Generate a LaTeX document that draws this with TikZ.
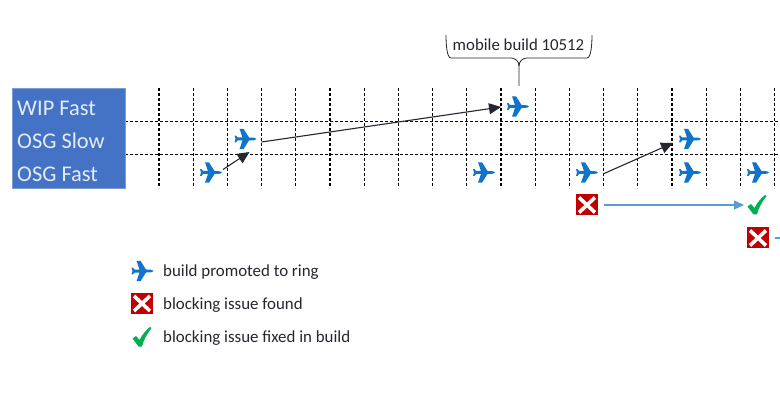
\documentclass[tikz,border=0pt]{standalone}
\usepackage{fontspec}
\setmainfont{Carlito}
\usetikzlibrary{arrows.meta}
\definecolor{boxblue}{HTML}{4472C4}
\definecolor{boxtxt}{HTML}{E4ECF8}
\definecolor{planeblue}{HTML}{0F75CC}
\definecolor{linkblue}{HTML}{5B9BD5}
\definecolor{xred}{HTML}{C00000}
\definecolor{okgreen}{HTML}{00B050}
\definecolor{ink}{HTML}{262630}
\newcommand{\planeglyph}{\tikz[x=1pt,y=-1pt,baseline=0pt]{
  \path[use as bounding box] (-11,-10) rectangle (11,10);
  \fill[planeblue] (11,0) -- (9,-1.2) -- (3.5,-1.5) -- (-2,-10.2) -- (-6,-10.2) -- (-3,-1.5) -- (-8,-1.5) -- (-9.5,-3.4) -- (-11,-3.4) -- (-10,0)
    -- (-11,3.4) -- (-9.5,3.4) -- (-8,1.5) -- (-3,1.5) -- (-6,10.2) -- (-2,10.2) -- (3.5,1.5) -- (9,1.2) -- cycle;
}}
\newcommand{\xglyph}{\tikz[x=1pt,y=-1pt,baseline=0pt]{
  \fill[xred] (-11,-10.5) rectangle (11,10.5);
  \draw[white,line width=3.6pt] (-8,-7.5) -- (8,7.5) (-8,7.5) -- (8,-7.5);
}}
\newcommand{\checkglyph}{\tikz[x=1pt,y=-1pt,baseline=0pt]{
  \path[use as bounding box] (-10,-10) rectangle (10,10);
  \fill[okgreen] (-9.5,1.5) -- (-6,-1) -- (-2.5,3) .. controls (0,-2) and (4,-7) .. (8,-10) -- (9.5,-9) .. controls (5,-3) and (1.5,3) .. (0,9.5) -- (-3.5,9.5) -- cycle;
}}
\tikzset{
  gridline/.style={black,line width=1.1pt,dash pattern=on 3pt off 2pt},
  ringbox/.style={fill=boxblue,draw=boxblue!70!white,line width=.5pt,minimum width=113pt,minimum height=100pt,inner sep=0pt},
  ringtext/.style={anchor=west,text=boxtxt,font=\fontsize{22.4}{22}\selectfont,inner sep=0pt},
  icon/.style={inner sep=0pt,outer sep=0pt},
  promote/.style={ink,line width=1.1pt,-{Triangle[length=12pt,width=11pt]}},
  fixlink/.style={linkblue,line width=1.1pt,-{Triangle[length=10pt,width=9pt]}},
  legendtext/.style={anchor=west,text=ink,font=\fontsize{16.9}{17}\selectfont,inner sep=0pt},
  calloutline/.style={ink,line width=.8pt}
}
\begin{document}
\begin{tikzpicture}[x=1pt,y=-1pt]
\useasboundingbox[fill=white] (0,0) rectangle (780,409);
% grid
\foreach \k in {0,...,18}{
  \draw[gridline] ({159+34.2*\k},88) -- ({159+34.2*\k},188);
}
\draw[gridline] (125,121.5) -- (780,121.5);
\draw[gridline] (125,154.5) -- (780,154.5);
% ring box
\node[ringbox] (rings) at (69,138) {};
\node[ringtext] (wip) at (17,108) {WIP Fast};
\node[ringtext] (slow) at (17,141) {OSG Slow};
\node[ringtext] (fast) at (17,174) {OSG Fast};
% planes
\node[icon] (p1) at (211,172.5) {\planeglyph};
\node[icon] (p2) at (245.5,139) {\planeglyph};
\node[icon] (p3) at (484,172.5) {\planeglyph};
\node[icon] (p4) at (518,106.5) {\planeglyph};
\node[icon] (p5) at (587,172.5) {\planeglyph};
\node[icon] (p6) at (690,139) {\planeglyph};
\node[icon] (p7) at (690,172.5) {\planeglyph};
\node[icon] (p8) at (758,172.5) {\planeglyph};
% issues
\node[icon] (x1) at (587,205) {\xglyph};
\node[icon] (c1) at (757,205) {\checkglyph};
\node[icon] (x2) at (758,238) {\xglyph};
\coordinate (offpage) at (790,238);
% connectors (yshift counts upward on the page)
\draw[promote] ([xshift=1pt,yshift=3pt]p1.east) -- ([xshift=4pt,yshift=-3pt]p2.south);
\draw[promote] ([xshift=5pt,yshift=-3pt]p2.east) -- ([xshift=-6pt,yshift=-0.5pt]p4.west);
\draw[promote] ([xshift=5pt,yshift=-1.5pt]p5.east) -- ([xshift=-6pt,yshift=-4pt]p6.west);
\draw[fixlink] ([xshift=6pt]x1.east) -- ([xshift=-3pt]c1.west);
\draw[linkblue,line width=1.1pt] ([xshift=6pt]x2.east) -- (offpage);
% callout
\node[inner sep=0pt,text=ink,font=\fontsize{16.8}{17}\selectfont] (mobile) at (518.5,44.5) {mobile build 10512};
\draw[calloutline] (446,35) .. controls (446,45) and (447,58) .. (451,58) -- (511,58)
  .. controls (515,58) and (519,61) .. (519,66) -- (519,86);
\draw[calloutline] (592,35) .. controls (592,45) and (591,58) .. (587,58) -- (527,58)
  .. controls (523,58) and (519,61) .. (519,66);
% legend
\node[icon] (lp) at (142.5,271) {\planeglyph};
\node[icon] (lx) at (142,303.5) {\xglyph};
\node[icon] (lc) at (142,337) {\checkglyph};
\node[legendtext] (lt1) at (163,272) {build promoted to ring};
\node[legendtext] (lt2) at (163,305) {blocking issue found};
\node[legendtext] (lt3) at (163,338) {blocking issue fixed in build};
\end{tikzpicture}
\end{document}
